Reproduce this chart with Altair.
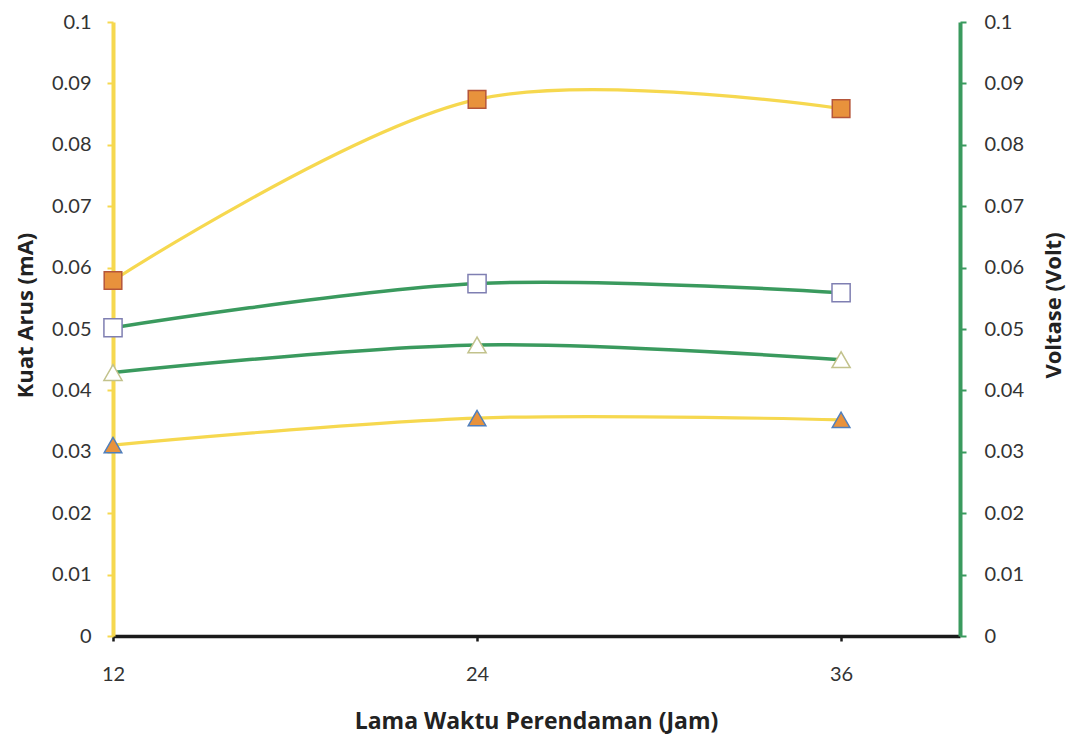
import altair as alt
import pandas as pd

# ---- data ----
jam = [12, 24, 36]
arus_kotak = [0.0579, 0.0874, 0.0859]      # yellow line, orange squares (left axis)
arus_segitiga = [0.0311, 0.0355, 0.0352]   # yellow line, orange triangles (left axis)
volt_kotak = [0.0502, 0.0574, 0.0559]      # green line, white squares (right axis)
volt_segitiga = [0.0429, 0.0474, 0.0450]   # green line, white triangles (right axis)

y_ticks = [0, 0.01, 0.02, 0.03, 0.04, 0.05, 0.06, 0.07, 0.08, 0.09, 0.1]
x_ticks = [12, 24, 36]

YELLOW = "#F6D84F"
GREEN = "#3A9A5E"
ORANGE = "#E8923C"
FONT = "Lato"
TFONT = "Open Sans"
LABEL_C = "#333333"
TITLE_C = "#222222"

df_arus = pd.DataFrame({
    "jam": jam + jam,
    "arus": arus_kotak + arus_segitiga,
    "seri": ["kotak"] * 3 + ["segitiga"] * 3,
})
df_volt = pd.DataFrame({
    "jam": jam + jam,
    "volt": volt_kotak + volt_segitiga,
    "seri": ["kotak"] * 3 + ["segitiga"] * 3,
})

x_enc = alt.X(
    "jam:Q",
    scale=alt.Scale(domain=[12, 39.92], nice=False, zero=False),
    axis=alt.Axis(
        values=x_ticks, title="Lama Waktu Perendaman (Jam)", grid=False,
        domainColor="#1a1a1a", domainWidth=3.5, tickColor="#1a1a1a", tickWidth=2.5,
        tickSize=5, labelFontSize=20, labelColor=LABEL_C, labelFont=FONT,
        labelPadding=23, labelFlush=False,
        titleFont=TFONT, titleFontSize=23, titleFontWeight="bold",
        titleColor=TITLE_C, titleX=423, titleY=74, titleAnchor="middle",
    ),
)

left_axis = alt.Axis(
    values=y_ticks, format="~g", title="Kuat Arus (mA)", grid=False,
    domainColor=YELLOW, domainWidth=4, tickColor=YELLOW, tickWidth=2, tickSize=6,
    labelFontSize=20, labelColor=LABEL_C, labelFont=FONT, labelPadding=16,
    titleFont=TFONT, titleFontSize=22, titleFontWeight="bold", titleColor=TITLE_C,
    titleX=-88, titleY=293, titleAngle=270, titleBaseline="middle",
)
right_axis = alt.Axis(
    values=y_ticks, format="~g", title="Voltase (Volt)", grid=False, orient="right",
    domainColor=GREEN, domainWidth=4, tickColor=GREEN, tickWidth=2, tickSize=6,
    labelFontSize=20, labelColor=LABEL_C, labelFont=FONT, labelPadding=18,
    titleFont=TFONT, titleFontSize=22, titleFontWeight="bold", titleColor=TITLE_C,
    titleX=93, titleY=283, titleAngle=270, titleBaseline="middle",
)

y_left = alt.Y("arus:Q", scale=alt.Scale(domain=[0, 0.1], nice=False), axis=left_axis)
y_right = alt.Y("volt:Q", scale=alt.Scale(domain=[0, 0.1], nice=False), axis=right_axis)

seri_dom = ["kotak", "segitiga"]

left_lines = alt.Chart(df_arus).mark_line(
    interpolate="catmull-rom", color=YELLOW, strokeWidth=3.2
).encode(x=x_enc, y=y_left, detail="seri:N")

left_pts = alt.Chart(df_arus).mark_point(
    filled=True, opacity=1, strokeWidth=1.5, size=310
).encode(
    x=x_enc, y=y_left,
    shape=alt.Shape("seri:N", scale=alt.Scale(domain=seri_dom, range=["square", "triangle-up"]), legend=None),
    fill=alt.Fill("seri:N", scale=alt.Scale(domain=seri_dom, range=[ORANGE, ORANGE]), legend=None),
    stroke=alt.Stroke("seri:N", scale=alt.Scale(domain=seri_dom, range=["#B5563A", "#4F7FBD"]), legend=None),
)

right_lines = alt.Chart(df_volt).mark_line(
    interpolate="catmull-rom", color=GREEN, strokeWidth=3.5
).encode(x=x_enc, y=y_right, detail="seri:N")

right_pts = alt.Chart(df_volt).mark_point(
    filled=True, opacity=1, strokeWidth=1.5, size=330
).encode(
    x=x_enc, y=y_right,
    shape=alt.Shape("seri:N", scale=alt.Scale(domain=seri_dom, range=["square", "triangle-up"]), legend=None),
    fill=alt.Fill("seri:N", scale=alt.Scale(domain=seri_dom, range=["#FFFFFF", "#FFFFFF"]), legend=None),
    stroke=alt.Stroke("seri:N", scale=alt.Scale(domain=seri_dom, range=["#7F7FB2", "#C2C28C"]), legend=None),
)

left = alt.layer(left_lines, left_pts)
right = alt.layer(right_lines, right_pts)

chart = alt.layer(left, right).resolve_scale(
    y="independent", fill="independent", stroke="independent", shape="independent"
).properties(
    width=847, height=614,
    autosize=alt.AutoSizeParams(type="none"),
    padding={"left": 105, "top": 14, "right": 108, "bottom": 98},
    background="white",
).configure_view(stroke=None)

chart.save("out.html", embed_options={"renderer": "svg", "actions": False})
